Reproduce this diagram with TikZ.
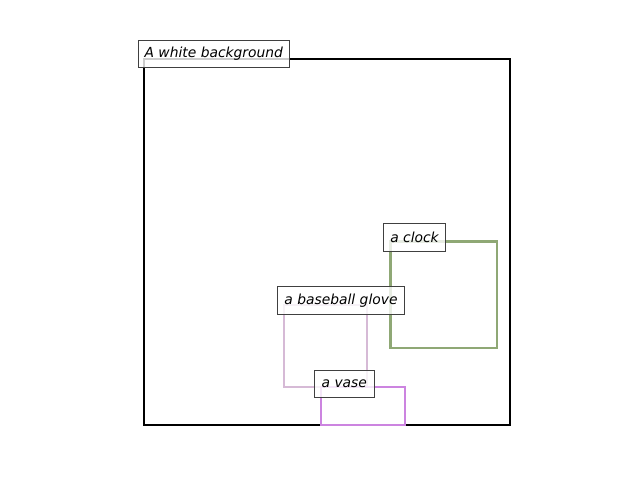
\documentclass[tikz,border=0pt]{standalone}
\usepackage{fontspec}
\setmainfont{DejaVu Sans}
\definecolor{clockc}{RGB}{143,168,117}
\definecolor{glovec}{RGB}{214,186,214}
\definecolor{vasec}{RGB}{204,132,224}
\definecolor{lblborder}{RGB}{64,64,64}
\begin{document}
\begin{tikzpicture}[x=0.01in,y=-0.01in,
  region/.style={draw, line width=1.5pt, inner sep=0pt, outer sep=0pt, anchor=north west},
  lbl/.style={draw=lblborder, line width=0.75pt, fill=white, fill opacity=0.8, text opacity=1,
    font=\fontsize{10}{12}\selectfont\itshape, inner sep=0pt, outer sep=0pt, anchor=center},
]
\useasboundingbox (0,0) rectangle (640,480);
% regions
\node[region, draw=black, minimum width=366\pgflinewidth*0+3.66in, minimum height=3.66in] (bg) at (144,59) {};
\node[region, draw=clockc, minimum width=1.06in, minimum height=1.06in] (clock) at (390.5,241.5) {};
\node[region, draw=glovec, minimum width=0.83in, minimum height=0.82in] (glove) at (284,305) {};
\node[region, draw=vasec, minimum width=0.835in, minimum height=0.38in] (vase) at (321,387) {};
% labels
\node[lbl, minimum width=1.51in, minimum height=0.27in] (lbg) at (213.8,53.7) {A white background};
\node[lbl, minimum width=0.62in, minimum height=0.28in] (lclock) at (414.5,237.5) {a clock};
\node[lbl, minimum width=1.27in, minimum height=0.28in] (lglove) at (341,300.2) {a baseball glove};
\node[lbl, minimum width=0.60in, minimum height=0.265in] (lvase) at (344.3,383.8) {a vase};
\end{tikzpicture}
\end{document}
